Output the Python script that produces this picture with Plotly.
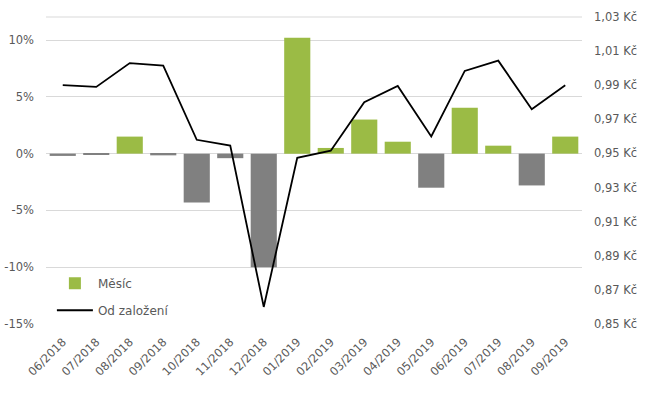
import plotly.graph_objects as go

months = ["06/2018", "07/2018", "08/2018", "09/2018", "10/2018", "11/2018", "12/2018",
          "01/2019", "02/2019", "03/2019", "04/2019", "05/2019", "06/2019", "07/2019",
          "08/2019", "09/2019"]
monthly_pct = [-0.2, -0.1, 1.5, -0.15, -4.3, -0.4, -10.0, 10.2, 0.5, 3.0, 1.05, -3.0,
               4.05, 0.7, -2.8, 1.5]
nav = [0.990, 0.989, 1.003, 1.0015, 0.958, 0.9546, 0.860, 0.9474, 0.9516, 0.980,
       0.9896, 0.960, 0.9984, 1.0044, 0.9759, 0.990]
left_ticks = [-15, -10, -5, 0, 5, 10]
left_labels = ["-15%", "-10%", "-5%", "0%", "5%", "10%"]
right_ticks = [0.85, 0.87, 0.89, 0.91, 0.93, 0.95, 0.97, 0.99, 1.01, 1.03]
right_labels = ["0,85 Kč", "0,87 Kč", "0,89 Kč", "0,91 Kč", "0,93 Kč", "0,95 Kč",
                "0,97 Kč", "0,99 Kč", "1,01 Kč", "1,03 Kč"]

GREEN = "#9BBB45"
GRAY = "#808080"
TXT = "#595959"
FONT = "DejaVu Sans"

pos_vals = [v if v >= 0 else None for v in monthly_pct]
neg_vals = [v if v < 0 else None for v in monthly_pct]

fig = go.Figure()
fig.add_trace(go.Bar(x=months, y=pos_vals, name="Měsíc", marker_color=GREEN,
                     marker_line_width=0, yaxis="y", legendrank=1, legendgroup="m"))
fig.add_trace(go.Bar(x=months, y=neg_vals, name="Měsíc", marker_color=GRAY,
                     marker_line_width=0, yaxis="y", showlegend=False, legendgroup="m"))
fig.add_trace(go.Scatter(x=months, y=nav, name="Od založení", mode="lines",
                         line=dict(color="black", width=1.8), yaxis="y2", legendrank=2,
                         legendgroup="o"))

fig.update_layout(
    width=648, height=396,
    margin=dict(l=46, r=66, t=17, b=72, autoexpand=False),
    paper_bgcolor="white", plot_bgcolor="white",
    font=dict(family=FONT, size=11, color=TXT),
    barmode="relative",
    bargap=0.22,
    showlegend=True,
    legend=dict(x=0.011, y=0.18, xanchor="left", yanchor="top",
                bgcolor="rgba(0,0,0,0)", font=dict(size=12, color=TXT),
                itemwidth=36, tracegroupgap=8, traceorder="grouped"),
    xaxis=dict(type="category", tickangle=-45, showgrid=False, ticks="",
               tickfont=dict(size=11.5, color=TXT), showline=False, zeroline=False,
               automargin=False, ticklabelstandoff=8),
    yaxis=dict(range=[-15, 12.03], tickvals=left_ticks, ticktext=left_labels,
               showgrid=True, gridcolor="#D9D9D9", gridwidth=1, zeroline=True,
               zerolinecolor="#D9D9D9", zerolinewidth=1, ticks="",
               tickfont=dict(size=11.5, color=TXT), showline=False, automargin=False,
               ticklabelstandoff=11),
    yaxis2=dict(range=[0.85, 1.03], tickvals=right_ticks, ticktext=right_labels,
                overlaying="y", side="right", showgrid=False, zeroline=False,
                ticks="", tickfont=dict(size=11.5, color=TXT), showline=False,
                automargin=False, ticklabelstandoff=11),
    shapes=[dict(type="line", xref="paper", yref="paper", x0=0, x1=1, y0=1, y1=1,
                 line=dict(color="#D9D9D9", width=1), layer="below")],
)

fig.write_html("out.html", config={"displayModeBar": False},
               post_script="document.body.style.margin='0px';document.body.style.overflow='hidden';")
